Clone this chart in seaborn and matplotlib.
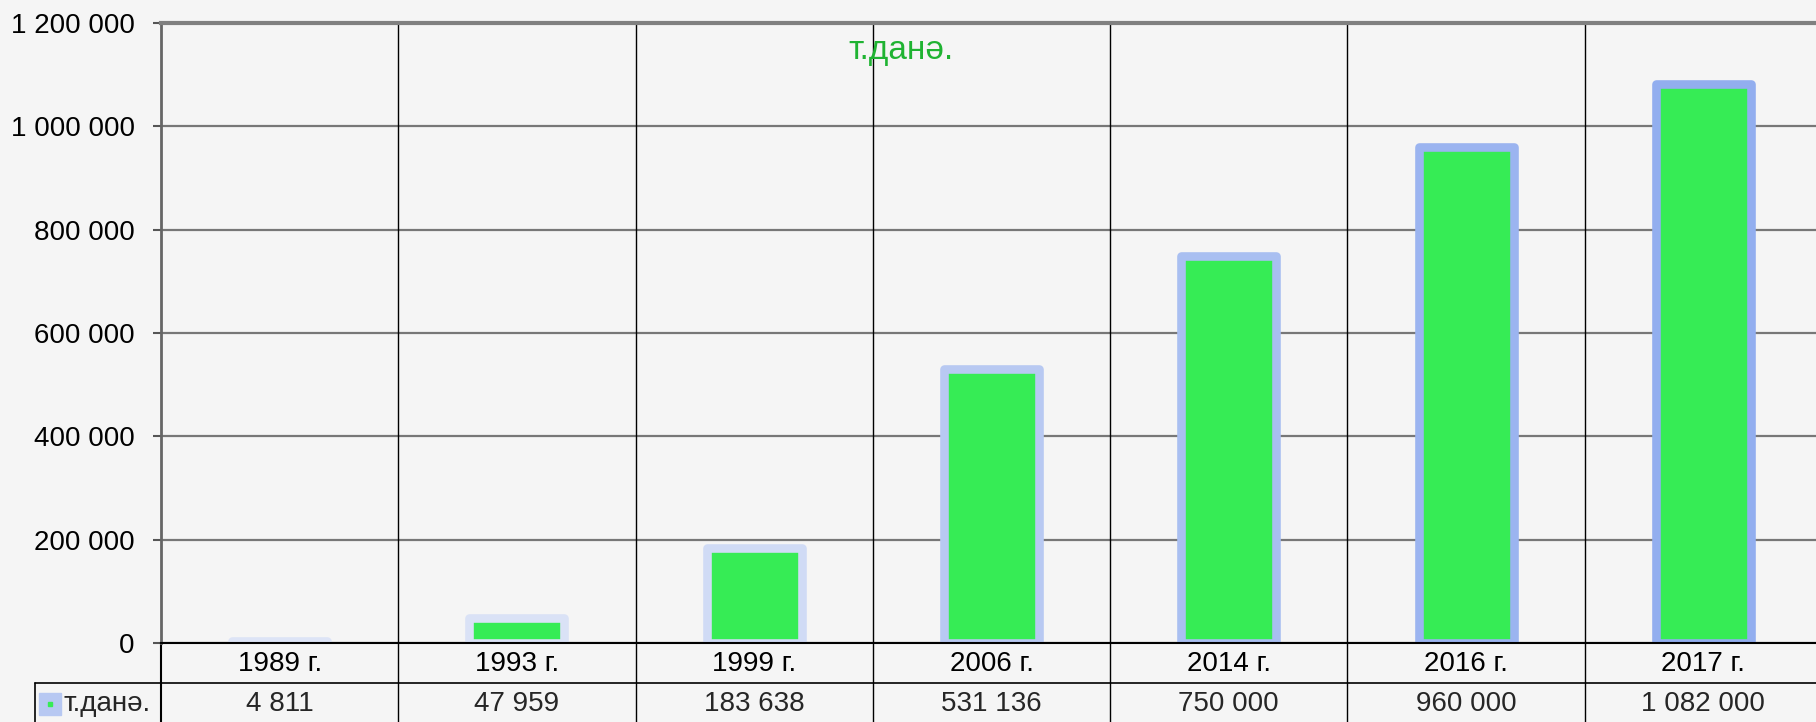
import matplotlib.pyplot as plt
import matplotlib.colors as mcolors
from matplotlib.lines import Line2D
import numpy as np
import pandas as pd
import seaborn as sns

years = ["1989 г.", "1993 г.", "1999 г.", "2006 г.", "2014 г.", "2016 г.", "2017 г."]
counts = [4811, 47959, 183638, 531136, 750000, 960000, 1082000]
series_name = "т.данә."
y_ticks = [0, 200000, 400000, 600000, 800000, 1000000, 1200000]


def fmt(v):
    return f"{v:,}".replace(",", " ")


sns.set_theme(style="white")
plt.rcParams["font.family"] = ["Liberation Sans", "DejaVu Sans"]

W, H = 1816, 722
fig = plt.figure(figsize=(W / 100, H / 100), dpi=100)
fig.patch.set_facecolor("#f5f5f5")

# plot area in pixels; right edge runs past the figure like in the source
left, right, top, zero = 161, 1822, 23, 643
ax = fig.add_axes([left / W, (H - zero) / H, (right - left) / W, (zero - top) / H])
ax.set_facecolor("none")

df = pd.DataFrame({"year": years, "count": counts})
sns.barplot(data=df, x="year", y="count", color="#36ec55", saturation=1,
            width=0.40, linewidth=6.2, edgecolor="#b8c8f0", errorbar=None,
            ax=ax, zorder=2)

light = np.array(mcolors.to_rgb("#dde4f6"))
dark = np.array(mcolors.to_rgb("#8aa8ee"))
for patch, v in zip(ax.patches, counts):
    patch.set_edgecolor(light + (dark - light) * v / 1.2e6)
    patch.set_joinstyle("round")

ax.set_xlim(-0.5, len(years) - 0.5)
ax.set_ylim(0, 1.2e6)
ax.set_xlabel("")
ax.set_ylabel("")
ax.set_yticks(y_ticks)
ax.set_yticklabels([fmt(v) for v in y_ticks])
ax.tick_params(axis="y", left=True, length=6, width=1.5, color="#555555",
               pad=13, labelsize=20, labelcolor="black")
ax.tick_params(axis="x", length=0, pad=6, labelsize=20, labelcolor="black")

ax.set_axisbelow(True)
ax.yaxis.grid(True, color="#777777", lw=1.6)
ax.spines["top"].set_color("#808080")
ax.spines["top"].set_linewidth(3)
ax.spines["left"].set_color("#666666")
ax.spines["left"].set_linewidth(2)
ax.spines["right"].set_visible(False)
ax.spines["bottom"].set_color("black")
ax.spines["bottom"].set_linewidth(1.5)
ax.spines["bottom"].set_zorder(3)

# data table under the axis
tr = ax.get_xaxis_transform()
table_bottom = (zero - H) / (zero - top)
for b in np.arange(0.5, len(years), 1):
    ax.plot([b, b], [table_bottom, 1], transform=tr, color="black", lw=1,
            clip_on=False, zorder=1)
ax.plot([-0.5, -0.5], [table_bottom, 0], transform=tr, color="black", lw=1.5,
        clip_on=False)

val_y = (zero - 704) / (zero - top)
for i, v in enumerate(counts):
    ax.text(i, val_y, fmt(v), transform=tr, ha="center", va="center",
            fontsize=20)

fig.add_artist(Line2D([35 / W, 1], [(H - 683) / H] * 2, color="black", lw=1.2))
fig.add_artist(Line2D([35 / W, 35 / W], [0, (H - 683) / H], color="black", lw=1.2))
fig.add_artist(Line2D([50 / W], [(H - 703.5) / H], marker="s", markersize=15.5,
                      color="#b7c8f2", lw=0))
fig.add_artist(Line2D([50 / W], [(H - 703.5) / H], marker="s", markersize=3.5,
                      color="#36ec55", lw=0))
fig.text(63 / W, (H - 704) / H, series_name, ha="left", va="center",
         fontsize=20)

ax.text((901 - left) / (right - left), (zero - 50) / (zero - top), series_name,
        transform=ax.transAxes, ha="center", va="center", fontsize=24,
        color="#1fb332")

fig.savefig("out.png", dpi=100, facecolor=fig.get_facecolor())
